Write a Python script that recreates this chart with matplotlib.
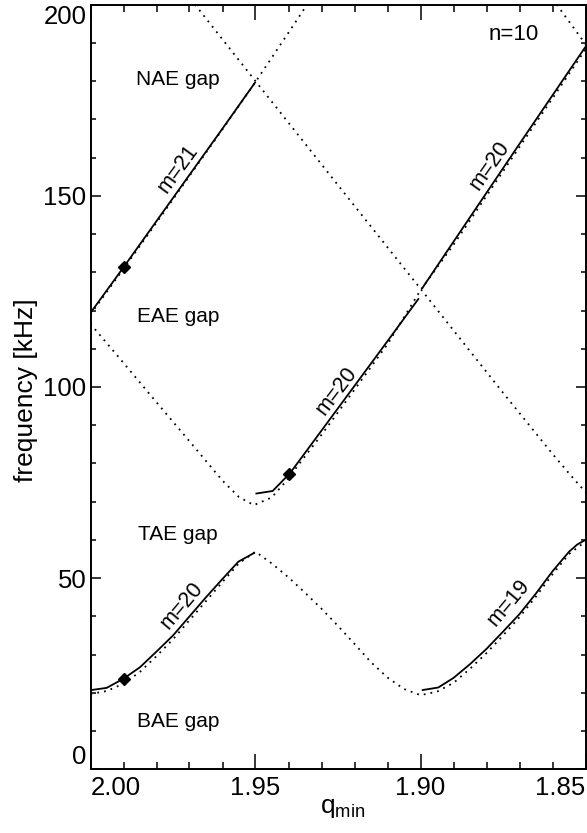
import matplotlib
matplotlib.use("Agg")
import matplotlib.pyplot as plt
from matplotlib.ticker import MultipleLocator
import matplotlib.transforms as mtransforms

plt.rcParams['font.family'] = ['Liberation Sans', 'DejaVu Sans']
plt.rcParams['mathtext.fontset'] = 'custom'
plt.rcParams['mathtext.rm'] = 'Liberation Sans'
plt.rcParams['mathtext.it'] = 'Liberation Sans:italic'

# ---------------- data ----------------
# solid eigenmode branches
q_m21 = [2.000, 1.990, 1.980, 1.970, 1.960, 1.950]
f_m21 = [119.4, 131.3, 143.4, 155.5, 167.6, 179.8]

q_m20_eae = [1.950, 1.9448, 1.9395, 1.930, 1.920, 1.910, 1.9005]
f_m20_eae = [72.1, 72.8, 77.5, 88.6, 100.3, 112.0, 123.2]

q_m20_up = [1.8995, 1.895, 1.890, 1.880, 1.870, 1.860, 1.850]
f_m20_up = [125.8, 131.6, 138.0, 150.8, 163.6, 176.3, 189.0]

q_m20_bae = [2.000, 1.9951, 1.990, 1.985, 1.980, 1.975, 1.970, 1.965, 1.960, 1.9552, 1.9502]
f_m20_bae = [20.7, 21.3, 23.7, 26.7, 30.8, 35.0, 40.0, 45.0, 49.8, 54.3, 56.7]

q_m19 = [1.8996, 1.8946, 1.890, 1.885, 1.880, 1.875, 1.870, 1.865, 1.860, 1.855, 1.8525, 1.850]
f_m19 = [20.7, 21.4, 23.9, 27.5, 31.5, 36.0, 40.6, 46.0, 51.8, 56.9, 58.8, 60.0]

# dotted continuum boundaries
q_contA = [2.000, 1.990, 1.980, 1.970, 1.960, 1.955, 1.9505, 1.9451, 1.9411, 1.930, 1.920,
           1.910, 1.900, 1.890, 1.880, 1.870, 1.860, 1.850]
f_contA = [116.5, 106.3, 96.0, 85.8, 75.5, 71.2, 69.1, 71.1, 75.0, 87.5, 99.3,
           111.2, 125.3, 137.2, 150.0, 162.8, 175.5, 188.3]

q_contB = [1.972, 1.9683, 1.950, 1.925, 1.900, 1.875, 1.860, 1.855, 1.850]
f_contB = [204.5, 200.0, 180.0, 152.8, 125.7, 98.5, 82.5, 77.4, 72.5]

q_contC = [2.000, 1.990, 1.980, 1.970, 1.960, 1.950, 1.940, 1.930]
f_contC = [119.0, 130.9, 143.0, 155.2, 167.4, 179.8, 192.7, 205.7]

q_contD = [1.862, 1.8587, 1.850]
f_contD = [204.0, 200.0, 189.7]

q_contE = [2.000, 1.995, 1.990, 1.985, 1.980, 1.975, 1.970, 1.965, 1.960, 1.955, 1.950,
           1.945, 1.940, 1.935, 1.930, 1.925, 1.920, 1.915, 1.910, 1.905, 1.900,
           1.895, 1.890, 1.885, 1.880, 1.875, 1.870, 1.865, 1.860, 1.855, 1.850]
f_contE = [19.7, 20.5, 22.4, 25.5, 29.6, 34.0, 39.0, 44.0, 49.0, 53.9, 56.9,
           53.8, 50.2, 46.2, 42.0, 37.5, 32.8, 28.0, 24.0, 21.0, 19.4,
           20.3, 22.6, 26.3, 30.4, 35.0, 39.8, 45.2, 51.0, 56.3, 59.6]

# diamond markers
q_mark = [1.990, 1.9397, 1.990]
f_mark = [131.3, 77.3, 23.7]

x_ticks = [2.00, 1.95, 1.90, 1.85]
x_ticklabels = ['2.00', '1.95', '1.90', '1.85']
y_ticks = [0, 50, 100, 150, 200]
y_ticklabels = ['0', '50', '100', '150', '200']

gap_labels = ['NAE gap', 'EAE gap', 'TAE gap', 'BAE gap']
gap_f = [180.4, 118.5, 61.5, 12.4]

# ---------------- figure ----------------
W, H = 587, 833
fig = plt.figure(figsize=(W / 100, H / 100), dpi=100)
L, R, T, B = 90.5, 585.5, 4.7, 769.3
ax = fig.add_axes([L / W, 1 - B / H, (R - L) / W, (B - T) / H])

dot = dict(color='black', lw=1.3, linestyle=(0, (1.0, 2.8)), dash_capstyle='butt')
sol = dict(color='black', lw=1.3, solid_capstyle='butt')

for q, f in [(q_contA, f_contA), (q_contB, f_contB), (q_contC, f_contC),
             (q_contD, f_contD), (q_contE, f_contE)]:
    ax.plot(q, f, **dot)

for q, f in [(q_m21, f_m21), (q_m20_eae, f_m20_eae), (q_m20_up, f_m20_up),
             (q_m20_bae, f_m20_bae), (q_m19, f_m19)]:
    ax.plot(q, f, **sol)

ax.plot(q_mark, f_mark, linestyle='none', marker='D', ms=6.5, color='black')

ax.set_xlim(2.00, 1.85)
ax.set_ylim(0, 200)

ax.xaxis.set_major_locator(MultipleLocator(0.05))
ax.xaxis.set_minor_locator(MultipleLocator(0.01))
ax.yaxis.set_major_locator(MultipleLocator(50))
ax.yaxis.set_minor_locator(MultipleLocator(10))
ax.tick_params(axis='both', which='both', direction='in', top=True, right=True,
               labelbottom=False, labelleft=False, width=1.1, color='black')
ax.tick_params(axis='x', which='major', length=10.8)
ax.tick_params(axis='x', which='minor', length=5.0)
ax.tick_params(axis='y', which='major', length=7.0)
ax.tick_params(axis='y', which='minor', length=3.6)
for s in ax.spines.values():
    s.set_linewidth(1.4)

tick_fs = 18.5
xt = mtransforms.blended_transform_factory(ax.transData, ax.transAxes)
for i, (v, lab) in enumerate(zip(x_ticks, x_ticklabels)):
    ha = 'left' if i == 0 else ('right' if i == len(x_ticks) - 1 else 'center')
    ax.text(v, -0.009, lab, transform=xt, ha=ha, va='top', fontsize=tick_fs)
yt = mtransforms.blended_transform_factory(ax.transAxes, ax.transData)
for i, (v, lab) in enumerate(zip(y_ticks, y_ticklabels)):
    va = 'bottom' if i == 0 else ('top' if i == len(y_ticks) - 1 else 'center_baseline')
    ax.text(-0.008, v, lab, transform=yt, ha='right', va=va, fontsize=tick_fs)

fig.text(26 / W, 1 - 390 / H, 'frequency [kHz]', rotation=90, ha='center', va='center', fontsize=19)
fig.text(343 / W, 1 - 808 / H, r'q$_{\rm min}$', ha='center', va='center', fontsize=19)

for lab, f in zip(gap_labels, gap_f):
    ax.text(1.9735, f, lab, ha='center', va='center', fontsize=15)

ax.text(1.8717, 192.2, 'n=10', ha='center', va='center', fontsize=16)
ax.text(1.9735, 157.1, 'm=21', ha='center', va='center', fontsize=15.5, rotation=54)
ax.text(1.8789, 157.9, 'm=20', ha='center', va='center', fontsize=15.5, rotation=55)
ax.text(1.9254, 99.1, 'm=20', ha='center', va='center', fontsize=15.5, rotation=53)
ax.text(1.9724, 42.9, 'm=20', ha='center', va='center', fontsize=15.5, rotation=50)
ax.text(1.8734, 43.5, 'm=19', ha='center', va='center', fontsize=15.5, rotation=50)

fig.savefig('out.png', dpi=100)
